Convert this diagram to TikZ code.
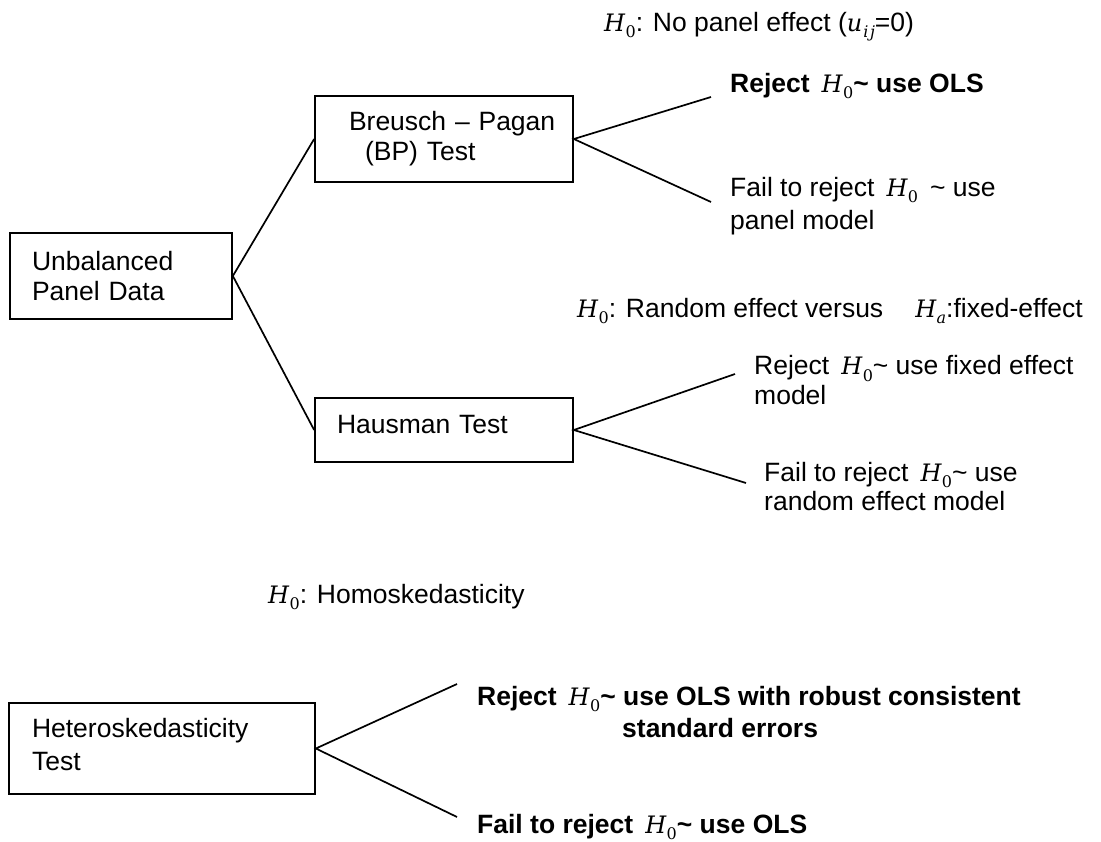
\documentclass[tikz,border=0pt]{standalone}
\usepackage{fontspec}
\setmainfont{Liberation Sans}
\newfontfamily\mserif{DejaVu Serif}
\newcommand{\Hyp}[1]{{\mserif\mdseries\itshape\fontsize{24}{28}\selectfont H}\kern0.5pt\raisebox{-6pt}{\mserif\mdseries\fontsize{16}{16}\selectfont #1}}
\newcommand{\uij}{{\mserif\mdseries\itshape\fontsize{24}{28}\selectfont u}\kern1pt\raisebox{-6pt}{\mserif\mdseries\itshape\fontsize{16}{16}\selectfont i\kern1.5pt j}}
\begin{document}
\begin{tikzpicture}[x=1pt,y=-1pt,
  font={\fontsize{26.5}{30}\selectfont},
  box/.style={draw, line width=1.7pt, inner ysep=0pt, align=left},
  txt/.style={anchor=base west, inner sep=0pt, align=left},
  bold/.style={font={\fontsize{26.5}{31}\selectfont\bfseries}},
  conn/.style={line width=1.7pt}]
\useasboundingbox (0,0) rectangle (1101,842);

% boxes
\node[box, minimum width=222pt, minimum height=86pt, text width=178pt, inner xsep=22pt]
  (unb) at (121,276) {Unbalanced\\Panel Data};
\node[box, minimum width=258pt, minimum height=86pt, text width=224pt, inner xsep=17pt]
  (bp) at (444,139) {\hspace*{17pt}Breusch -- Pagan\\\hspace*{33pt}(BP) Test};
\node[box, minimum width=258pt, minimum height=64pt, text width=214pt, inner xsep=22pt, text depth=12pt]
  (haus) at (444,430) {Hausman Test};
\node[box, minimum width=306pt, minimum height=91pt, text width=260pt, inner xsep=23pt,
  text depth=41pt, font={\fontsize{26.5}{33}\selectfont}]
  (het) at (162,748.5) {Heteroskedasticity\\Test};

% hypothesis / outcome texts (multi-line nodes: anchor at last baseline)
\node[txt] (h1) at (604,32) {\Hyp{0}: No panel effect (\uij=0)};
\node[txt, bold] (bpr) at (730,93)
  {Reject\hspace{12pt}\Hyp{0}\textasciitilde{} use OLS};
\node[txt, font={\fontsize{26.5}{33}\selectfont}] (bpf) at (730,230)
  {Fail to reject\hspace{12pt}\Hyp{0}\hspace{12pt}\textasciitilde{} use\\panel model};
\node[txt] (h2) at (577,318)
  {\Hyp{0}: Random effect versus\hspace{32pt}\Hyp{\itshape a}:fixed-effect};
\node[txt, font={\fontsize{26.5}{29}\selectfont}] (hr) at (754,404)
  {Reject\hspace{12pt}\Hyp{0}\textasciitilde{} use fixed effect\\model};
\node[txt, font={\fontsize{26.5}{29}\selectfont}] (hf) at (764,510)
  {Fail to reject\hspace{12pt}\Hyp{0}\textasciitilde{} use\\random effect model};
\node[txt] (h3) at (268,603) {\Hyp{0}: Homoskedasticity};
\node[txt, font={\fontsize{26.5}{32}\selectfont\bfseries}] (hetr) at (477,737)
  {Reject\hspace{12pt}\Hyp{0}\textasciitilde{} use OLS with robust consistent\\\hspace*{145pt}standard errors};
\node[txt, bold] (hetf) at (477,833)
  {Fail to reject\hspace{12pt}\Hyp{0}\textasciitilde{} use OLS};

% free ends of branch lines
\coordinate (bpu) at (711,97);
\coordinate (bpd) at (711,202);
\coordinate (hau) at (735,374);
\coordinate (had) at (746,483);
\coordinate (heu) at (457,684);
\coordinate (hed) at (457,817);

% connectors
\draw[conn] (bp.west) -- (unb.east) -- (haus.west);
\draw[conn] (bpu) -- (bp.east) -- (bpd);
\draw[conn] (hau) -- (haus.east) -- (had);
\draw[conn] (heu) -- (het.east) -- (hed);
\end{tikzpicture}
\end{document}
